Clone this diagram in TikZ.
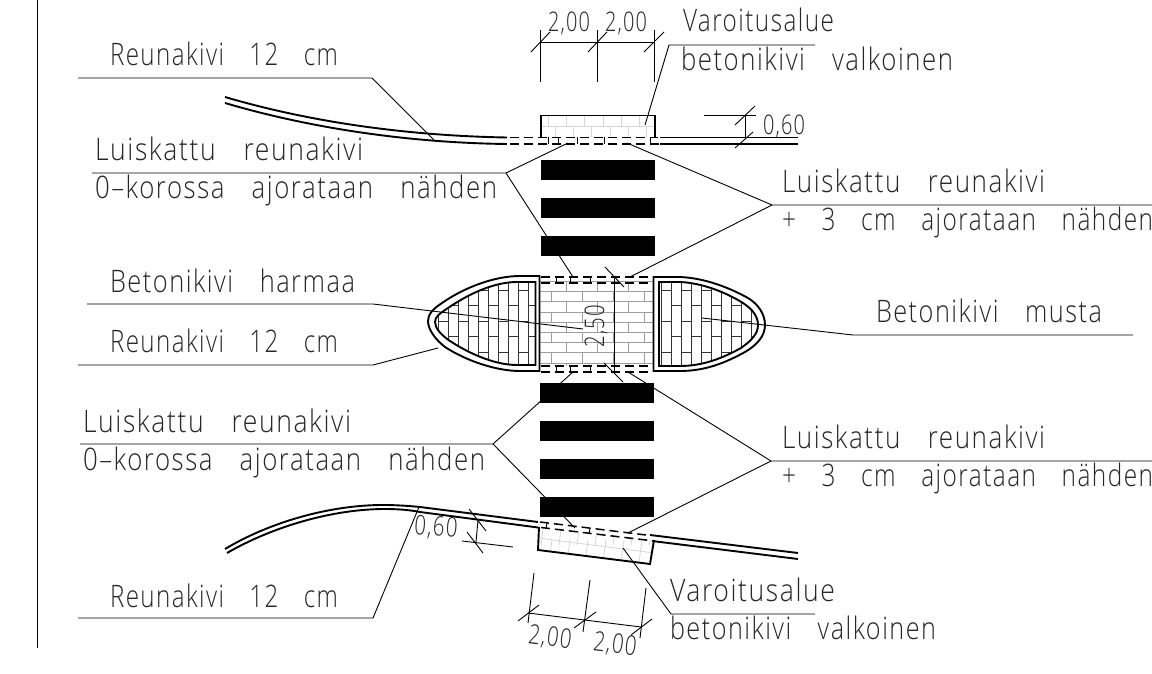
\documentclass[tikz,border=0pt]{standalone}
\usepackage{fontspec}
\usepackage{graphicx}
\setmainfont{Open Sans Light}[LetterSpace=6]
\usetikzlibrary{calc}
\tikzset{
  lblnode/.style={inner sep=0pt,outer sep=0pt,anchor=base west,text=black!85},
  thin line/.style={line width=0.9pt,black},
  road/.style={line width=1.9pt,black},
  dashroad/.style={line width=1.5pt,black,dash pattern=on 9pt off 5pt},
  tickline/.style={line width=1pt,black},
  grey brick/.style={line width=0.9pt,black!38},
  pale brick/.style={line width=0.8pt,black!16},
  dark brick/.style={line width=0.9pt,black!80},
  stripe/.style={fill=black,draw=none},
}
% name, x, base y, width, size, text
\newcommand{\lbl}[6]{\node[lblnode] (#1) at (#2,#3) {\resizebox{#4pt}{\height}{\fontsize{#5pt}{#5pt}\selectfont #6}};}
\newcommand{\wsp}{\hspace{1.05em}}
\begin{document}
\begin{tikzpicture}[x=1pt,y=-1pt]
\useasboundingbox (0,0) rectangle (1152,674);
\clip (0,0) rectangle (1152,674);
\fill[white] (0,0) rectangle (1152,674);
% left border
\draw[thin line] (37.5,0) -- (37.5,648);

% --- shapes
\def\LO{(539.5,276) -- (520,276) .. controls (495,276) and (465,287) .. (442,303) .. controls (433,309) and (428,314) .. (428,321) .. controls (428,330) and (436,340) .. (445,347) .. controls (465,360) and (495,371) .. (520,371) -- (539.5,371) -- cycle}
\def\LI{(535.5,282) -- (517,282) .. controls (495,282) and (470,293) .. (448,308) .. controls (439,314) and (435,317) .. (435,322) .. controls (435,328) and (441,335) .. (450,341) .. controls (470,354) and (495,365) .. (517,365) -- (535.5,365) -- cycle}
\def\RO{(653.5,277) -- (680,277) .. controls (705,278) and (730,288) .. (748,298) .. controls (758,304) and (765,314) .. (765,325) .. controls (765,336) and (757,345) .. (745,352) .. controls (725,363) and (705,371) .. (680,371) -- (653.5,371) -- cycle}
\def\RI{(659,282) -- (680,282) .. controls (703,283) and (727,293) .. (743,303) .. controls (752,309) and (758,316) .. (758,325) .. controls (758,334) and (751,341) .. (741,348) .. controls (723,358) and (703,366) .. (680,366) -- (659,366) -- cycle}

% centre bricks
\foreach \r in {0,...,8}{
  \pgfmathsetmacro{\yy}{281.5+10.2*\r}
  \draw[grey brick] (540,\yy) -- (653,\yy);
  \pgfmathsetmacro{\yb}{\yy+10.2}
  \pgfmathsetmacro{\off}{mod(\r,2)==0 ? 566 : 551}
  \foreach \k in {0,1,2,3}{
    \pgfmathsetmacro{\xx}{\off+31*\k}
    \ifdim\xx pt<653pt \draw[grey brick] (\xx,\yy) -- (\xx,{min(\yb,366)}); \fi
  }
}
% island bricks, left
\begin{scope}
\clip \LI;
\foreach \c in {0,...,10}{
  \pgfmathsetmacro{\xx}{438+10*\c}
  \draw[dark brick] (\xx,270) -- (\xx,380);
  \pgfmathsetmacro{\yo}{mod(\c,2)==0 ? 290 : 305.5}
  \foreach \k in {-1,0,1,2,3}{
    \pgfmathsetmacro{\yy}{\yo+31*\k}
    \draw[dark brick] (\xx,\yy) -- (\xx+10,\yy);
  }
}
\end{scope}
% island bricks, right
\begin{scope}
\clip \RI;
\foreach \c in {0,...,10}{
  \pgfmathsetmacro{\xx}{661.7+10*\c}
  \draw[dark brick] (\xx,270) -- (\xx,380);
  \pgfmathsetmacro{\yo}{mod(\c,2)==0 ? 290 : 305.5}
  \foreach \k in {-1,0,1,2,3}{
    \pgfmathsetmacro{\yy}{\yo+31*\k}
    \draw[dark brick] (\xx,\yy) -- (\xx+10,\yy);
  }
}
\end{scope}
\draw[road] \LO;
\draw[road] \LI;
\draw[road] \RO;
\draw[road] \RI;

% island dashes
\draw[dashroad] (541,277) -- (652,277);
\draw[dashroad] (541,283) -- (652,283);
\draw[dashroad] (541,366) -- (652,366);
\draw[dashroad] (541,372) -- (652,372);
\foreach \x in {556,570,590}{
  \draw[tickline] (\x,277) -- (\x,283);
  \draw[tickline] (\x,366) -- (\x,372);
}

% top warning area
\foreach \k in {0,...,5}{
  \draw[pale brick] ({548+18.3*\k},115) -- ({548+18.3*\k},126);
  \draw[pale brick] ({555+18.3*\k},126) -- ({555+18.3*\k},137);
}
\draw[pale brick] (541,126) -- (654,126);
\draw[road] (541,137) -- (541,115.5) -- (655,115.5) -- (655,137);
\draw[road] (225,97) .. controls (320,125) and (420,136) .. (507,137.5);
\draw[road] (225,103) .. controls (320,131) and (420,143) .. (507,144);
\draw[road] (660,137.5) -- (798,137.5);
\draw[road] (660,144) -- (798,144);
\draw[dashroad] (510,137.5) -- (658,137.5);
\draw[dashroad] (510,144) -- (672,144);
\foreach \x in {548,558,577,604,650}{
  \draw[tickline] (\x,137.5) -- (\x,144);
}

% bottom warning area
\begin{scope}
\clip (539,526) -- (538,550) -- (650,564) -- (654,540) -- cycle;
\foreach \k in {0,...,6}{
  \draw[pale brick] ({544+18*\k},522) -- ({541+18*\k},545);
  \draw[pale brick] ({552+18*\k},540) -- ({549+18*\k},562);
}
\draw[pale brick] (538,538) -- (654,553);
\end{scope}
\draw[road] (539,527) -- (538,550) -- (650,564) -- (654,540);
\draw[road] (225,549) .. controls (270,522) and (330,505) .. (383,505) .. controls (397,505) and (410,506) .. (420,507) -- (538,522);
\draw[road] (227,553) .. controls (272,527) and (332,509) .. (385,509) .. controls (398,509) and (410,510) .. (420,512) -- (538,527.5);
\draw[road] (650,535) -- (798,553);
\draw[road] (652,541) -- (798,559);
\draw[dashroad] (540,522) -- (646,535);
\draw[dashroad] (541,527.5) -- (650,540.5);
\draw[tickline] (547,523) -- (546,528.5);
\draw[tickline] (590,528.5) -- (589,534);

% --- leaders
\draw[thin line] (78,78) -- (372,78) -- (434,140);
\draw[thin line] (568,143) -- (506,173) -- (92,173);
\draw[thin line] (506,173) -- (573,277);
\draw[thin line] (627,143) -- (772,205) -- (1152,205);
\draw[thin line] (772,205) -- (630,277);
\draw[thin line] (87,304) -- (373,304) -- (583,329);
\draw[thin line] (78,365) -- (373,365) -- (438,348);
\draw[thin line] (702,318) -- (853,335) -- (1133,335);
\draw[thin line] (573,372) -- (493,444) -- (80,444);
\draw[thin line] (493,444) -- (575,528);
\draw[thin line] (628,372) -- (771,461) -- (1152,461);
\draw[thin line] (771,461) -- (628,533);
\draw[thin line] (78,618) -- (373,618) -- (419,507);
\draw[thin line] (815,45) -- (669,45) -- (645,125);
\draw[thin line] (623,548) -- (671,614) -- (815,614);

% --- stripes above the leaders
\foreach \a/\b in {160/180,198/218,236/256}{
  \fill[stripe] (540.5,\a) rectangle (654.5,\b);
}
\foreach \a/\b in {383/403,421/441,459/479,497/517}{
  \fill[stripe] (540,\a) rectangle (653.5,\b);
}

% --- dimensions, top
\draw[thin line] (540,30) -- (540,82) (597,30) -- (597,82) (654,30) -- (654,82);
\draw[thin line] (540,42) -- (654,42);
\draw[thin line] (531,52) -- (550,32) (588,52) -- (607,32) (644,52) -- (664,32);
\draw[thin line] (704,115) -- (756,115) (745,115) -- (745,137);
\draw[thin line] (735,125) -- (755,106) (735,148) -- (753,132);
% dimension 2,50
\draw[thin line] (614,277) -- (614,372);
\draw[thin line] (605,267) -- (624,287) (604,363) -- (623,382);
% dimensions, bottom
\draw[thin line] (534,573) -- (528,623) (590,580) -- (583,632) (646,588) -- (640,638);
\draw[thin line] (528,613) -- (641,627);
\draw[thin line] (518,621) -- (539,605) (574,628) -- (596,612) (631,635) -- (652,619);
\draw[thin line] (478,520) -- (476,542) (469,509) -- (486,531) (467,532) -- (483,553) (462,541) -- (513,547);

% --- labels
\lbl{ra}{110}{66}{228}{31}{Reunakivi\wsp 12\wsp cm}
\lbl{rb}{95}{161}{268}{31}{Luiskattu\wsp reunakivi}
\lbl{rc}{95}{198}{402}{31}{0–korossa\wsp ajorataan\wsp nähden}
\lbl{rd}{782}{193}{263}{31}{Luiskattu\wsp reunakivi}
\lbl{re}{782}{230}{371}{31}{+\wsp 3\wsp cm\wsp ajorataan\wsp nähden}
\lbl{rf}{110}{292}{245}{31}{Betonikivi\wsp harmaa}
\lbl{rg}{110}{352}{228}{31}{Reunakivi\wsp 12\wsp cm}
\lbl{rh}{876}{322}{226}{31}{Betonikivi\wsp musta}
\lbl{ri}{83}{432}{268}{31}{Luiskattu\wsp reunakivi}
\lbl{rj}{83}{470}{402}{31}{0–korossa\wsp ajorataan\wsp nähden}
\lbl{rk}{782}{448}{263}{31}{Luiskattu\wsp reunakivi}
\lbl{rl}{782}{486}{371}{31}{+\wsp 3\wsp cm\wsp ajorataan\wsp nähden}
\lbl{rm}{110}{607}{228}{31}{Reunakivi\wsp 12\wsp cm}
\lbl{rn}{683}{32}{151}{31}{Varoitusalue}
\lbl{ro}{681}{71}{272}{31}{betonikivi\wsp valkoinen}
\lbl{rp}{670}{601}{165}{31}{Varoitusalue}
\lbl{rq}{670}{639}{266}{31}{betonikivi\wsp valkoinen}
% dimension texts
\lbl{da}{548}{32}{42}{27}{2,00}
\lbl{db}{605}{32}{42}{27}{2,00}
\lbl{dc}{763}{135}{42}{27}{0,60}
\node[inner sep=0pt,text=black!85,rotate=-4] (dd) at (436,528) {\resizebox{43pt}{\height}{\fontsize{27pt}{27pt}\selectfont 0,60}};
\node[inner sep=0pt,text=black!85,rotate=-7] (de) at (550,638) {\resizebox{43pt}{\height}{\fontsize{27pt}{27pt}\selectfont 2,00}};
\node[inner sep=0pt,text=black!85,rotate=-7] (df) at (615,645) {\resizebox{43pt}{\height}{\fontsize{27pt}{27pt}\selectfont 2,00}};
\node[inner sep=0pt,text=black!85,rotate=90] (dg) at (596,326) {\resizebox{43pt}{\height}{\fontsize{27pt}{27pt}\selectfont 2,50}};
\end{tikzpicture}
\end{document}
